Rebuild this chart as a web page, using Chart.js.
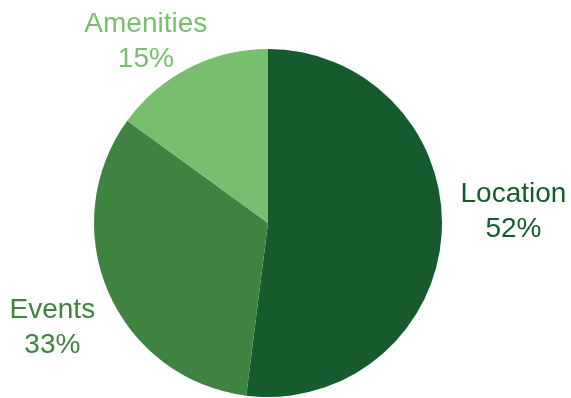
<!DOCTYPE html>
<html>
<head>
<meta charset="utf-8">
<title>Share by category</title>
<script src="https://cdn.jsdelivr.net/npm/chart.js@4.4.1/dist/chart.umd.min.js"></script>
<style>
  html, body { margin: 0; padding: 0; background: #ffffff; }
  #wrap { width: 571px; height: 398px; }
</style>
</head>
<body>
<div id="wrap"><canvas id="pie" width="571" height="398"></canvas></div>
<script>
// Categories and their percentage shares
const categories = ['Location', 'Events', 'Amenities'];
const shares = [52, 33, 15];
const sliceColors = ['#175a2e', '#3e8440', '#79be6f'];

// Fine adjustment of each outside label, in pixels [dx, dy]
const labelNudge = [[3, -27], [-2, 16], [-8, 10]];

const FONT_SIZE = 28;
const LINE_GAP = 35;
const FONT = FONT_SIZE + 'px "Liberation Sans", Arial, Helvetica, sans-serif';

// Draws "Category / NN%" outside each slice, in the slice colour
const outsideLabels = {
  id: 'outsideLabels',
  afterDatasetsDraw(chart) {
    const ctx = chart.ctx;
    const meta = chart.getDatasetMeta(0);
    ctx.save();
    ctx.font = FONT;
    ctx.textAlign = 'center';
    ctx.textBaseline = 'alphabetic';
    meta.data.forEach((arc, i) => {
      const p = arc.getProps(['x', 'y', 'startAngle', 'endAngle', 'outerRadius'], true);
      const mid = (p.startAngle + p.endAngle) / 2;
      const dx = Math.cos(mid), dy = Math.sin(mid);
      const line1 = categories[i];
      const line2 = shares[i] + '%';
      const halfW = Math.max(ctx.measureText(line1).width, ctx.measureText(line2).width) / 2;
      const cap = FONT_SIZE * 0.716;
      const halfH = (cap + LINE_GAP) / 2;
      const r = p.outerRadius + 16;
      const cx = p.x + dx * r + dx * halfW + labelNudge[i][0];
      const cy = p.y + dy * r + dy * halfH + labelNudge[i][1];
      const base1 = cy - halfH + cap;
      ctx.fillStyle = sliceColors[i];
      ctx.fillText(line1, cx, base1);
      ctx.fillText(line2, cx, base1 + LINE_GAP);
    });
    ctx.restore();
  }
};

new Chart(document.getElementById('pie'), {
  type: 'pie',
  data: {
    labels: categories,
    datasets: [{
      data: shares,
      backgroundColor: sliceColors,
      borderWidth: 0,
      hoverOffset: 0
    }]
  },
  options: {
    responsive: false,
    animation: false,
    layout: { padding: { top: 49, bottom: 1, left: 94, right: 129 } },
    plugins: {
      legend: { display: false },
      tooltip: { enabled: false }
    }
  },
  plugins: [outsideLabels]
});
</script>
</body>
</html>
